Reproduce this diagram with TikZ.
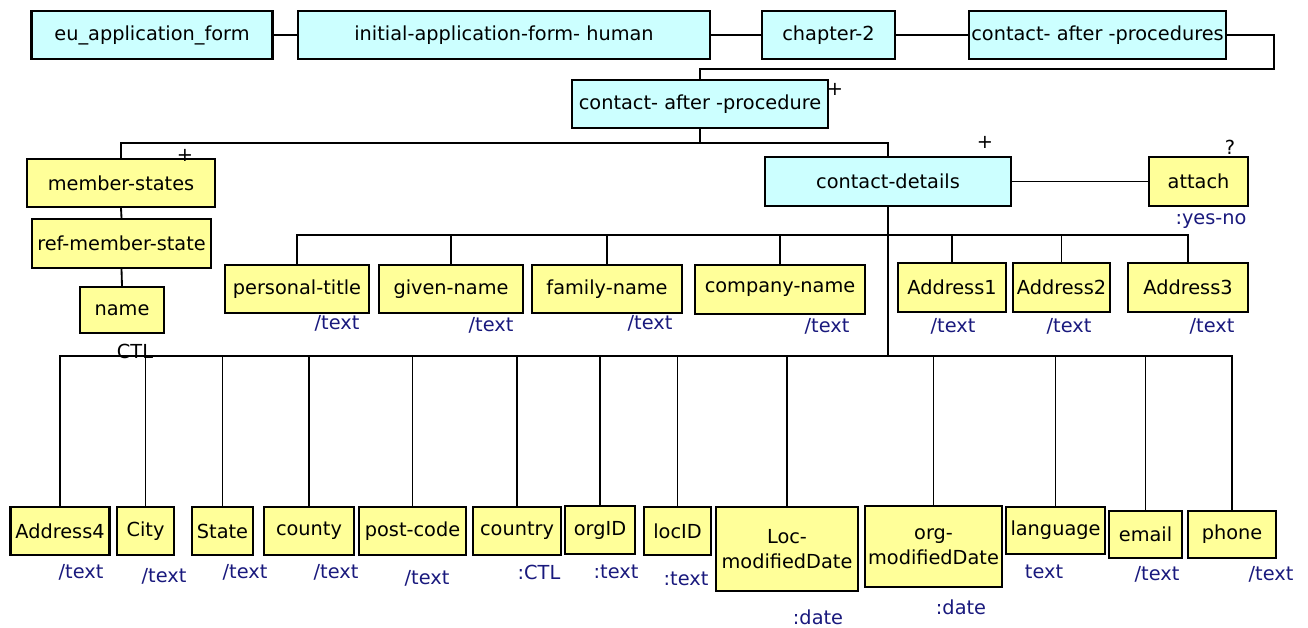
\documentclass[tikz,border=0pt]{standalone}
\usepackage{fontspec}
\setmainfont{DejaVu Sans}
\definecolor{elemcyan}{HTML}{CCFFFF}
\definecolor{elemyellow}{HTML}{FFFF99}
\definecolor{typeblue}{RGB}{25,25,125}

\begin{document}
\begin{tikzpicture}[
    x=0.02cm, y=-0.02cm,
    every node/.style={font=\fontsize{11}{14}\selectfont,inner sep=0pt},
    elem/.style={draw,line width=1.3pt,align=center},
    group/.style={elem,fill=elemcyan},
    leaf/.style={elem,fill=elemyellow},
    wd/.style={minimum width=#1*0.02cm},
    hg/.style={minimum height=#1*0.02cm},
    type/.style={text=typeblue},
    link/.style={line width=1.05pt}
]
    \useasboundingbox (0,0) rectangle (1308,627);

    % upper part
    \node[group,wd=241,hg=48] (eu) at (152,35) {eu\_application\_form};
    \node[group,wd=412,hg=48] (init) at (504,35) {initial-application-form- human};
    \node[group,wd=133,hg=48] (chap) at (828.5,35) {chapter-2};
    \node[group,wd=257,hg=48] (caps) at (1097.5,35) {contact- after -procedures};
    \node[group,wd=256.5,hg=48] (cap) at (700,104) {contact- after -procedure};
    \node[leaf,wd=188,hg=48] (mstates) at (121,183) {member-states};
    \node[leaf,wd=179,hg=49] (refms) at (121.5,243.5) {ref-member-state};
    \node[leaf,wd=84,hg=46] (name) at (122,310) {name};
    \node[group,wd=246,hg=49] (cdet) at (888,181.5) {contact-details};
    \node[leaf,wd=99,hg=49] (attach) at (1198.5,181.5) {attach};

    % middle row
    \node[leaf,wd=144,hg=48] (ptitle) at (297,289) {personal-title};
    \node[leaf,wd=144,hg=48] (gname) at (451,289) {given-name};
    \node[leaf,wd=150,hg=48] (fname) at (607,289) {family-name};
    \node[leaf,wd=170,hg=49] (cname) at (780,289.5) {company-name};
    \node[leaf,wd=108,hg=49] (addr1) at (952,287.5) {Address1};
    \node[leaf,wd=97,hg=49] (addr2) at (1061.5,287.5) {Address2};
    \node[leaf,wd=120,hg=49] (addr3) at (1188,287.5) {Address3};

    % lower row
    \node[leaf,wd=99,hg=48] (addr4) at (60,531) {Address4};
    \node[leaf,wd=57,hg=48] (city) at (145.5,531) {City};
    \node[leaf,wd=61,hg=48] (state) at (222.5,531) {State};
    \node[leaf,wd=90,hg=48] (county) at (309,531) {county};
    \node[leaf,wd=107,hg=48] (pcode) at (412.5,531) {post-code};
    \node[leaf,wd=88,hg=48] (country) at (517,531) {country};
    \node[leaf,wd=70,hg=48] (orgid) at (600,530) {orgID};
    \node[leaf,wd=67,hg=48] (locid) at (677.5,531) {locID};
    \node[leaf,wd=142,hg=84] (locmod) at (787,549) {Loc-\\modifiedDate};
    \node[leaf,wd=137,hg=81] (orgmod) at (933.5,546.5) {org-\\modifiedDate};
    \node[leaf,wd=99,hg=47] (lang) at (1055.5,530.5) {language};
    \node[leaf,wd=73,hg=47] (email) at (1145.5,534.5) {email};
    \node[leaf,wd=88,hg=47] (phone) at (1232,534.5) {phone};

    % types
    \node[type] (t-attach) at (1211,221) {:yes-no};
    \node[type] (t-ptitle) at (337,323) {/text};
    \node[type] (t-gname) at (491,325) {/text};
    \node[type] (t-fname) at (650,323) {/text};
    \node[type] (t-cname) at (827,326) {/text};
    \node[type] (t-addr1) at (953,326) {/text};
    \node[type] (t-addr2) at (1069,326) {/text};
    \node[type] (t-addr3) at (1212,326) {/text};
    \node[type] (t-addr4) at (81,572) {/text};
    \node[type] (t-city) at (164,576) {/text};
    \node[type] (t-state) at (245,572) {/text};
    \node[type] (t-county) at (336,572) {/text};
    \node[type] (t-pcode) at (427,578) {/text};
    \node[type] (t-country) at (539,572) {:CTL};
    \node[type] (t-orgid) at (616,572) {:text};
    \node[type] (t-locid) at (686,579) {:text};
    \node[type] (t-locmod) at (818,617) {:date};
    \node[type] (t-orgmod) at (961,607) {:date};
    \node[type] (t-lang) at (1044,572) {text};
    \node[type] (t-email) at (1157,574) {/text};
    \node[type] (t-phone) at (1271,574) {/text};

    % occurrence marks
    \node (m-cap) at (835,89) {+};
    \node (m-mstates) at (185,155) {+};
    \node (m-cdet) at (985,142) {+};
    \node (m-attach) at (1230,147) {?};
    \node (c-name) at (135,351) {CTL};

    \coordinate (turn) at (1274,69);
    \coordinate (split) at (700,143);
    \coordinate (mid) at (888,235);
    \coordinate (low) at (888,356);

    \draw[link] (eu) -- (init) (init) -- (chap) (chap) -- (caps);
    \draw[link] (caps.east) -| (turn) -| (cap.north);
    \draw[link] (cap.south) -- (split) -| (mstates.north);
    \draw[link] (split) -| (cdet.north);
    \draw[link] (mstates.south) -- (refms.north) (refms.south) -- (name.north);
    \draw[link] (cdet) -- (attach);
    \draw[line width=1.6pt] (cdet.south) -- (low);
    \draw[link] (ptitle.north) |- (mid) -| (addr3.north);
    \foreach \n in {gname,fname,cname,addr1,addr2}
        \draw[link] (\n.north) -- (\n.north |- mid);
    \draw[link] (addr4.north) |- (low) -| (phone.north);
    \foreach \n in {city,state,county,pcode,country,orgid,locid,locmod,orgmod,lang,email}
        \draw[link] (\n.north) -- (\n.north |- low);
\end{tikzpicture}
\end{document}
